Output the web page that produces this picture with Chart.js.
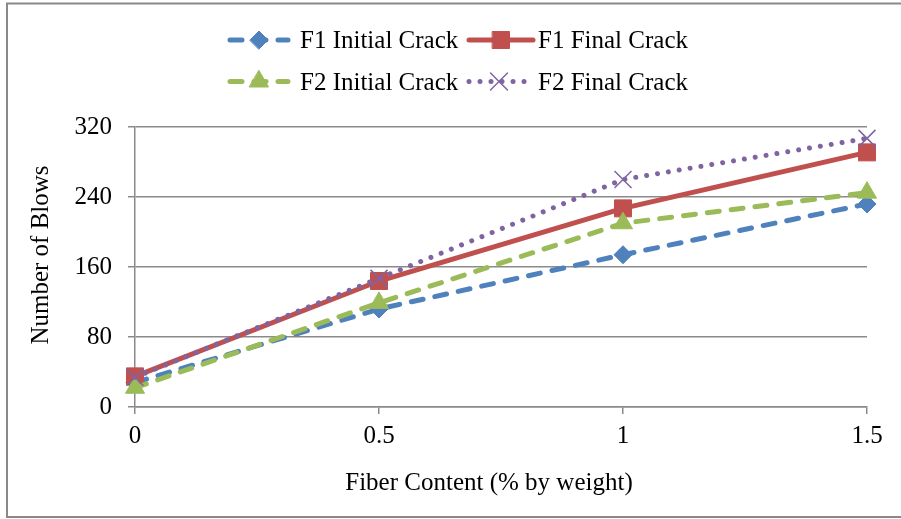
<!DOCTYPE html>
<html><head><meta charset="utf-8">
<script src="https://cdn.jsdelivr.net/npm/chart.js@4/dist/chart.umd.min.js"></script>
<style>html,body{margin:0;padding:0;background:#fff;} canvas{display:block}</style>
</head><body>
<canvas id="c" width="901" height="519"></canvas>
<script>
const categories = ['0', '0.5', '1', '1.5'];
const seriesNames = ['F1 Initial Crack', 'F1 Final Crack', 'F2 Initial Crack', 'F2 Final Crack'];
const f1Initial = [28, 112, 174, 232];
const f1Final = [35, 144, 227, 291];
const f2Initial = [22, 119, 210, 245];
const f2Final = [34, 147, 260, 307];
const yTickValues = [0, 80, 160, 240, 320];
const xTitle = 'Fiber Content (% by weight)';
const yTitle = 'Number of Blows';

const FONT = '"Liberation Serif", "Times New Roman", serif';
const GRID = '#8a8a8a';

const chromePlugin = {
  id: 'chrome',
  beforeDraw(chart) {
    const ctx = chart.ctx;
    ctx.save();
    ctx.fillStyle = '#fff';
    ctx.fillRect(0, 0, chart.width, chart.height);
    ctx.strokeStyle = '#898989';
    ctx.lineWidth = 2;
    ctx.strokeRect(7, 3.5, 900, 513.5);
    ctx.restore();
  },
  afterDraw(chart) {
    const ctx = chart.ctx;
    ctx.save();
    ctx.font = '25px ' + FONT;
    ctx.fillStyle = '#000';
    ctx.textAlign = 'center';
    ctx.textBaseline = 'alphabetic';
    ctx.fillText(xTitle, 489, 490);
    ctx.save();
    ctx.translate(48, 255);
    ctx.rotate(-Math.PI / 2);
    ctx.fillText(yTitle, 0, 0);
    ctx.restore();

    const slots = [
      {x0: 230, x1: 288, y: 40, tx: 300},
      {x0: 469, x1: 533, y: 40, tx: 538},
      {x0: 230, x1: 288, y: 81.5, tx: 300},
      {x0: 469, x1: 529, y: 81.5, tx: 538}
    ];
    chart.data.datasets.forEach((ds, i) => {
      const s = slots[i];
      ctx.save();
      ctx.strokeStyle = ds.borderColor;
      ctx.lineWidth = ds.borderWidth;
      ctx.lineCap = 'round';
      ctx.setLineDash(ds.borderDash || []);
      ctx.beginPath();
      ctx.moveTo(s.x0, s.y);
      ctx.lineTo(s.x1, s.y);
      ctx.stroke();
      ctx.setLineDash([]);
      ctx.fillStyle = ds.pointBackgroundColor;
      ctx.strokeStyle = ds.pointBorderColor;
      ctx.lineWidth = ds.pointBorderWidth;
      const xc = (s.x0 + s.x1) / 2;
      Chart.helpers.drawPoint(ctx, {pointStyle: ds.pointStyle, radius: ds.pointRadius, borderWidth: ds.pointBorderWidth, rotation: 0}, xc, s.y);
      ctx.restore();
      ctx.fillStyle = '#000';
      ctx.textAlign = 'left';
      ctx.textBaseline = 'alphabetic';
      ctx.font = '25px ' + FONT;
      ctx.fillText(seriesNames[i], s.tx, s.y + 8);
    });
    ctx.restore();
  }
};

new Chart(document.getElementById('c'), {
  type: 'line',
  data: {
    labels: categories,
    datasets: [
      {label: seriesNames[0], data: f1Initial, order: 3,
       borderColor: '#4F81BD', borderWidth: 5, borderDash: [12, 12], borderCapStyle: 'round',
       pointStyle: 'rectRot', pointRadius: 9, pointBorderWidth: 1,
       pointBackgroundColor: '#4F81BD', pointBorderColor: '#4F81BD'},
      {label: seriesNames[1], data: f1Final, order: 2,
       borderColor: '#C0504D', borderWidth: 5, borderCapStyle: 'round',
       pointStyle: 'rect', pointRadius: 12, pointBorderWidth: 1,
       pointBackgroundColor: '#C0504D', pointBorderColor: '#C0504D'},
      {label: seriesNames[2], data: f2Initial, order: 1,
       borderColor: '#9BBB59', borderWidth: 5, borderDash: [12, 12], borderCapStyle: 'round',
       pointStyle: 'triangle', pointRadius: 11, pointBorderWidth: 1,
       pointBackgroundColor: '#9BBB59', pointBorderColor: '#9BBB59'},
      {label: seriesNames[3], data: f2Final, order: 0,
       borderColor: '#8064A2', borderWidth: 5, borderDash: [0.01, 11], borderCapStyle: 'round',
       pointStyle: 'crossRot', pointRadius: 12, pointBorderWidth: 1.5,
       pointBackgroundColor: '#8064A2', pointBorderColor: '#8064A2'}
    ]
  },
  options: {
    responsive: false,
    animation: false,
    devicePixelRatio: 1,
    layout: {padding: {top: 127, right: 34, left: 0, bottom: 0}},
    plugins: {legend: {display: false}, tooltip: {enabled: false}},
    elements: {line: {tension: 0}},
    scales: {
      x: {
        type: 'category',
        offset: false,
        afterFit: s => { s.height = 112; },
        grid: {drawOnChartArea: false, drawTicks: true, tickLength: 7, color: GRID, lineWidth: 1.5},
        border: {display: true, color: GRID, width: 1.5},
        ticks: {font: {family: FONT, size: 25}, color: '#000', padding: 7, maxRotation: 0, autoSkip: false}
      },
      y: {
        min: 0, max: 320,
        afterFit: s => { s.width = 135; },
        afterBuildTicks: s => { s.ticks = yTickValues.map(v => ({value: v})); },
        grid: {drawTicks: true, tickLength: 7, color: GRID, lineWidth: 1.5},
        border: {display: true, color: GRID, width: 1.5},
        ticks: {font: {family: FONT, size: 25}, color: '#000', padding: 16}
      }
    }
  },
  plugins: [chromePlugin]
});
</script>
</body></html>
